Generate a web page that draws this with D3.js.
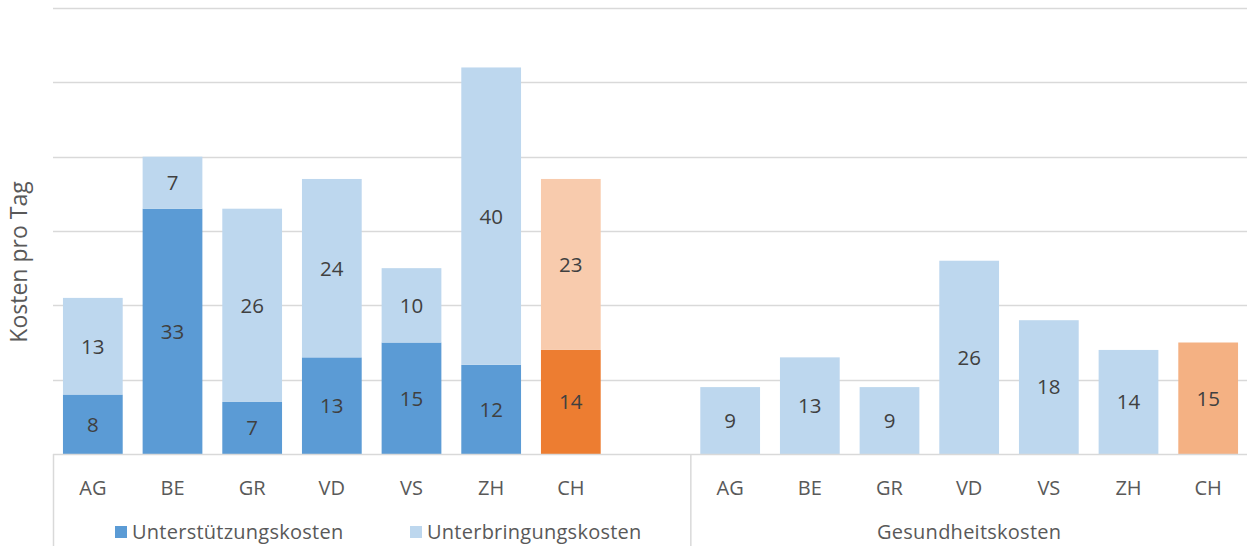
<!DOCTYPE html>
<html>
<head>
<meta charset="utf-8">
<script src="https://cdn.jsdelivr.net/npm/d3@7"></script>
<style>
  html, body { margin: 0; padding: 0; background: #fff; }
  svg text { font-family: "Open Sans", "Lato", sans-serif; fill: #595959; }
</style>
</head>
<body>
<svg id="chart" width="1247" height="546"></svg>
<script>
// Cantons shown in each block
const cantons = ["AG", "BE", "GR", "VD", "VS", "ZH", "CH"];
// Left block: stacked support + accommodation costs per day
const unterstuetzung = [8, 33, 7, 13, 15, 12, 14];
const unterbringung = [13, 7, 26, 24, 10, 40, 23];
// Right block: health costs per day
const gesundheit = [9, 13, 9, 26, 18, 14, 15];
const yTicks = [0, 10, 20, 30, 40, 50, 60];
const groupNames = ["Unterstützungskosten", "Unterbringungskosten", "Gesundheitskosten"];

const colors = {
  support: "#5B9BD5", supportCH: "#ED7D31",
  accom: "#BDD7EE", accomCH: "#F8CBAD",
  health: "#BDD7EE", healthCH: "#F4B183"
};

const svg = d3.select("#chart");
const plotLeft = 53, plotRight = 1248, plotBase = 454, plotTop = 8;

// One band per slot: 7 cantons, a spacer, then 7 cantons
const slots = cantons.map(c => "L-" + c).concat(["gap"], cantons.map(c => "R-" + c));
const x = d3.scaleBand().domain(slots).range([plotLeft, plotRight]).paddingInner(0.25).paddingOuter(0.125);
const y = d3.scaleLinear().domain([0, 60]).range([plotBase, plotTop]);

// Horizontal gridlines
svg.append("g").selectAll("line").data(yTicks.slice(1)).join("line")
  .attr("x1", plotLeft).attr("x2", 1247)
  .attr("y1", d => Math.round(y(d)) + 0.5).attr("y2", d => Math.round(y(d)) + 0.5)
  .attr("stroke", "#d9d9d9").attr("stroke-width", 1.5);

// Stacked bars (left block)
const leftData = cantons.map((c, i) => ({ c, s: unterstuetzung[i], a: unterbringung[i] }));
const lg = svg.append("g");
lg.selectAll("rect.s").data(leftData).join("rect")
  .attr("x", d => x("L-" + d.c)).attr("width", x.bandwidth())
  .attr("y", d => y(d.s)).attr("height", d => y(0) - y(d.s))
  .attr("fill", d => d.c === "CH" ? colors.supportCH : colors.support);
lg.selectAll("rect.a").data(leftData).join("rect")
  .attr("x", d => x("L-" + d.c)).attr("width", x.bandwidth())
  .attr("y", d => y(d.s + d.a)).attr("height", d => y(d.s) - y(d.s + d.a))
  .attr("fill", d => d.c === "CH" ? colors.accomCH : colors.accom);

// Health bars (right block)
const rightData = cantons.map((c, i) => ({ c, v: gesundheit[i] }));
const rg = svg.append("g");
rg.selectAll("rect").data(rightData).join("rect")
  .attr("x", d => x("R-" + d.c)).attr("width", x.bandwidth())
  .attr("y", d => y(d.v)).attr("height", d => y(0) - y(d.v))
  .attr("fill", d => d.c === "CH" ? colors.healthCH : colors.health);

// Value labels centred in each segment
const labels = [];
leftData.forEach(d => {
  labels.push({ k: "L-" + d.c, v: d.s, mid: d.s / 2 });
  labels.push({ k: "L-" + d.c, v: d.a, mid: d.s + d.a / 2 });
});
rightData.forEach(d => labels.push({ k: "R-" + d.c, v: d.v, mid: d.v / 2 }));
svg.append("g").selectAll("text").data(labels).join("text")
  .attr("x", d => x(d.k) + x.bandwidth() / 2)
  .attr("y", d => y(d.mid))
  .attr("dy", "0.36em")
  .attr("text-anchor", "middle")
  .attr("font-size", 20.5)
  .style("fill", "#404040")
  .text(d => d.v);

// Baseline and category axis dividers
svg.append("line").attr("x1", plotLeft).attr("x2", 1247).attr("y1", plotBase + 0.5).attr("y2", plotBase + 0.5)
  .attr("stroke", "#d9d9d9").attr("stroke-width", 1.5);
const divX = x("gap") + x.bandwidth() + x.step() * 0.25 / 2 + 0.5;
[plotLeft + 0.5, divX].forEach(xx => {
  svg.append("line").attr("x1", xx).attr("x2", xx).attr("y1", plotBase).attr("y2", 546)
    .attr("stroke", "#d9d9d9").attr("stroke-width", 1.5);
});

// Canton tick labels
svg.append("g").selectAll("text").data(slots.filter(s => s !== "gap")).join("text")
  .attr("x", d => x(d) + x.bandwidth() / 2)
  .attr("y", 488).attr("dy", "0.36em")
  .attr("text-anchor", "middle").attr("font-size", 20)
  .text(d => d.slice(2));

// Legend for the stacked block
const legend = [
  { name: groupNames[0], color: colors.support, x: 115 },
  { name: groupNames[1], color: colors.accom, x: 410 }
];
const leg = svg.append("g").selectAll("g").data(legend).join("g");
leg.append("rect").attr("x", d => d.x).attr("y", 526).attr("width", 12).attr("height", 12)
  .attr("fill", d => d.color);
leg.append("text").attr("x", d => d.x + 17).attr("y", 532).attr("dy", "0.36em")
  .attr("font-size", 20).attr("letter-spacing", 0.25).text(d => d.name);

// Outer category label for the health block
svg.append("text")
  .attr("x", (x("R-AG") + x("R-CH") + x.bandwidth()) / 2)
  .attr("y", 532).attr("dy", "0.36em")
  .attr("text-anchor", "middle").attr("font-size", 20).attr("letter-spacing", 0.25)
  .text(groupNames[2]);

// Y axis title
svg.append("text")
  .attr("transform", "translate(19," + 262 + ") rotate(-90)")
  .attr("text-anchor", "middle").attr("dy", "0.36em")
  .attr("font-size", 23)
  .text("Kosten pro Tag");
</script>
</body>
</html>
